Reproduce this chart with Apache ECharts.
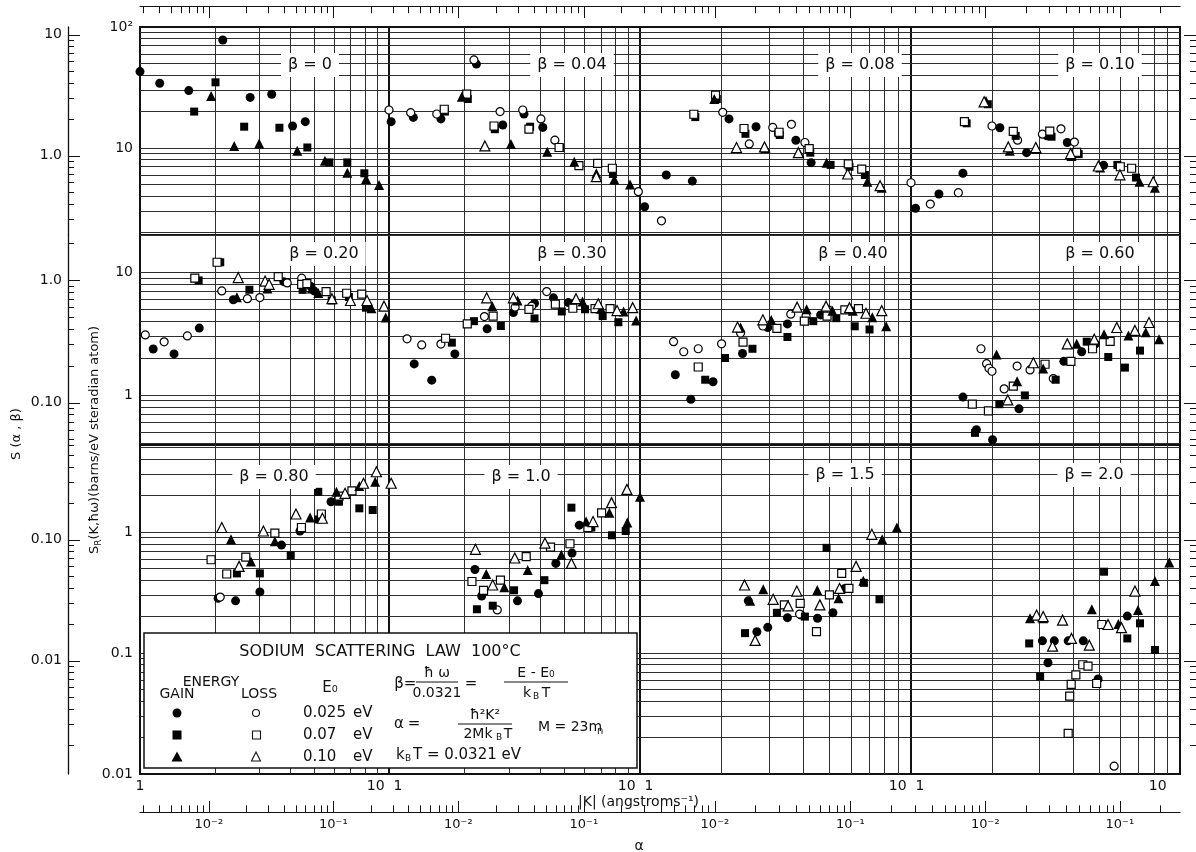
<!DOCTYPE html>
<html>
<head>
<meta charset="utf-8">
<script src="https://cdn.jsdelivr.net/npm/echarts@6/dist/echarts.min.js"></script>
<style>
  html, body { margin: 0; padding: 0; background: #fff; }
  #chart { width: 1196px; height: 852px; }
</style>
</head>
<body>
<div id="chart"></div>
<script>
// axis ranges
const kRange = [1, 10];                       // |K| in every panel
const alphaRange = [0.0028, 0.28];            // alpha = hbar^2 K^2 / 2 M kB T over the same panel
const alphaTicks = [0.003, 0.004, 0.005, 0.006, 0.007, 0.008, 0.009, 0.01,
                    0.02, 0.03, 0.04, 0.05, 0.06, 0.07, 0.08, 0.09, 0.1, 0.2];
const alphaTickLabels = [[0.01, '10⁻²'], [0.1, '10⁻¹']];
const rowRanges = [[1.91, 100], [0.39, 20.2], [0.01, 5.24]];   // S_R range of each panel row
const sRTickLabels = [[100, '10²'], [10, '10'], [1, '1'], [0.1, '0.1'], [0.01, '0.01']];
const sAlphaTickLabels = [[10, '10'], [1, '1.0'], [0.1, '0.10'], [0.01, '0.01']];
const sAlphaFactor = 0.116;                   // S(alpha,beta) scale against S_R
const betaLabels = ['β = 0', 'β = 0.04', 'β = 0.08', 'β = 0.10',
                    'β = 0.20', 'β = 0.30', 'β = 0.40', 'β = 0.60',
                    'β = 0.80', 'β = 1.0', 'β = 1.5', 'β = 2.0'];
const e0Labels = ['0.025', '0.07', '0.10'];

// data: [|K|, S_R]; fc/fs/ft = gain (filled), oc/os/ot = loss (open); c,s,t = 0.025, 0.07, 0.10 eV
// beta = 0
const p0_fc = [[1.0,42.8],[1.2,34.3],[1.57,29.8],[2.15,78],[2.77,26.2],[3.38,27.8],[4.1,15.2],[4.61,16.5]];
const p0_oc = [];
const p0_fs = [[1.65,20.0],[2.01,34.9],[2.62,15.0],[3.63,14.7],[4.7,10.1],[5.76,7.6],[6.8,7.6],[7.96,6.18]];
const p0_os = [];
const p0_ft = [[1.93,26.9],[2.39,10.4],[3.01,10.9],[4.28,9.5],[5.53,7.85],[6.8,6.25],[8.09,5.55],[9.12,4.94]];
const p0_ot = [];
// beta = 0.04
const p1_fc = [[1.02,16.5],[1.25,17.9],[1.61,17.4],[2.23,49.4],[2.84,15.5],[3.45,19.1],[4.1,14.8]];
const p1_oc = [[1.0,20.6],[1.22,19.6],[1.55,19.1],[2.18,53.4],[2.77,20.0],[3.41,20.6],[4.03,17.4],[4.58,11.6],[9.85,4.36]];
const p1_fs = [[1.67,20.0],[2.06,25.4],[2.64,14.3],[3.65,15.0],[4.8,10.0],[7.8,6.1]];
const p1_os = [[1.66,20.9],[2.04,27.9],[2.62,15.2],[3.61,14.3],[4.76,10.1],[5.71,7.14],[6.78,7.47],[7.76,6.8]];
const p1_ft = [[1.95,26.5],[3.06,10.8],[4.27,9.3],[5.47,7.7],[6.7,6.18],[7.9,5.5],[9.13,5.0]];
const p1_ot = [[2.41,10.4],[6.7,5.8]];
// beta = 0.08
const p2_fc = [[1.04,3.27],[1.25,5.98],[1.56,5.33],[2.13,17.4],[2.68,15.0],[3.24,13.1],[3.76,11.6],[4.28,7.57]];
const p2_oc = [[1.2,2.5],[2.02,19.7],[2.53,10.8],[3.09,14.8],[3.62,15.7],[4.06,11.1]];
const p2_fs = [[1.6,18.0],[1.92,25.4],[2.45,13.1],[3.28,12.8],[4.25,9.15],[5.05,7.25],[5.93,7.0],[6.76,5.98]];
const p2_os = [[1.58,19.0],[1.9,27.4],[2.42,14.5],[3.26,13.5],[4.21,9.9],[5.87,7.38],[6.58,6.7]];
const p2_ft = [[1.88,25.4],[2.9,10.0],[3.87,9.1],[4.88,7.57],[6.9,5.26],[7.8,4.7]];
const p2_ot = [[2.27,10.1],[2.88,10.2],[3.84,9.15],[5.84,6.1],[7.69,4.88]];
// beta = 0.10
const p3_fc = [[1.04,3.18],[1.27,4.17],[1.56,6.18],[2.14,14.7],[2.69,9.15],[3.2,12.6],[3.81,11.1],[5.2,7.2]];
const p3_oc = [[1.0,5.16],[1.18,3.44],[1.5,4.27],[2.0,15.2],[2.49,11.6],[3.08,13.0],[3.61,14.4],[4.05,11.2]];
const p3_fs = [[1.61,16.0],[1.93,23.0],[2.45,12.6],[3.33,12.4],[4.2,8.9],[5.85,7.25],[6.86,5.7]];
const p3_os = [[1.58,16.5],[2.4,13.7],[3.28,13.8],[4.13,9.2],[6.0,7.0],[6.61,6.8]];
const p3_ft = [[1.9,24.5],[2.33,9.5],[2.93,9.8],[3.95,8.6],[5.05,6.9],[7.07,5.26],[8.07,4.7]];
const p3_ot = [[1.87,24.1],[2.3,10.2],[2.91,10.1],[3.92,9.0],[4.97,7.1],[5.98,6.0],[7.95,5.26]];
// beta = 0.20
const p4_fc = [[1.13,2.37],[1.37,2.16],[1.73,3.51],[2.37,5.98],[3.78,8.4],[4.86,7.66],[5.0,7.06]];
const p4_oc = [[1.05,3.09],[1.25,2.71],[1.55,3.03],[2.13,7.06],[2.7,6.1],[3.03,6.23],[3.9,8.2],[4.46,8.97]];
const p4_fs = [[1.72,8.6],[2.1,12.1],[2.75,7.22],[4.5,7.2],[5.89,5.9],[6.9,6.3],[8.08,5.15]];
const p4_os = [[1.66,8.97],[2.04,12.1],[3.59,9.25],[4.46,8.0],[4.68,8.1],[5.59,6.97],[6.76,6.76],[7.77,6.65]];
const p4_ft = [[2.45,6.28],[3.25,7.4],[4.9,7.4],[5.2,6.8],[8.5,5.1],[9.7,4.28]];
const p4_ot = [[2.48,9.08],[3.18,8.5],[3.3,8.0],[5.9,6.1],[7.0,5.9],[8.16,5.9],[9.55,5.3]];
// beta = 0.30
const p5_fc = [[1.26,1.79],[1.48,1.32],[1.83,2.16],[2.46,3.46],[3.13,4.7],[3.8,5.6],[4.52,6.2],[5.18,5.67]];
const p5_oc = [[1.18,2.87],[1.35,2.56],[1.61,2.6],[2.4,4.36],[3.18,5.2],[3.7,5.3],[4.25,6.97],[6.7,5.06]];
const p5_fs = [[1.78,2.67],[2.18,4.0],[2.79,3.65],[3.8,4.21],[4.88,4.8],[6.04,5.0],[7.1,4.4],[8.2,3.92]];
const p5_os = [[1.68,2.9],[2.05,3.8],[2.6,4.4],[3.61,5.0],[4.6,5.5],[5.4,5.1],[6.62,5.06],[7.6,5.06]];
const p5_ft = [[2.58,5.3],[3.25,5.9],[5.9,5.8],[7.0,5.06],[8.6,4.8],[9.65,4.04]];
const p5_ot = [[2.45,6.2],[3.13,6.2],[5.56,6.1],[6.82,5.55],[8.1,4.88],[9.35,5.15]];
// beta = 0.40
const p6_fc = [[1.35,1.46],[1.54,0.92],[1.86,1.28],[2.39,2.18],[2.96,3.55],[3.5,3.8],[4.64,4.5]];
const p6_oc = [[1.33,2.72],[1.45,2.25],[1.64,2.38],[2.0,2.61],[2.35,3.2],[2.84,3.65],[3.6,4.56],[4.1,4.4]];
const p6_fs = [[1.74,1.33],[2.06,2.0],[2.6,2.38],[3.5,2.97],[4.36,4.0],[5.3,4.23],[6.2,3.63],[7.03,3.42]];
const p6_os = [[1.64,1.69],[2.4,2.7],[3.2,3.49],[4.04,4.0],[4.9,4.9],[4.9,4.4],[5.7,4.94],[6.4,5.06]];
const p6_ft = [[2.35,3.55],[3.05,4.08],[4.12,5.0],[5.13,4.87],[6.1,4.87],[7.2,4.3],[8.1,3.63]];
const p6_ot = [[2.29,3.58],[2.84,4.1],[3.8,5.2],[4.86,5.3],[5.93,5.15],[6.82,4.64],[7.8,4.87]];
// beta = 0.60
const p7_fc = [[1.56,0.96],[1.75,0.52],[2.01,0.43],[2.52,0.77],[3.7,1.88],[4.31,2.25],[4.85,2.61]];
const p7_oc = [[1.82,2.38],[1.91,1.8],[1.95,1.65],[2.0,1.56],[2.22,1.12],[2.48,1.72],[2.77,1.6],[3.38,1.36]];
const p7_fs = [[1.73,0.49],[2.13,0.84],[2.65,0.99],[3.45,1.33],[4.5,2.72],[5.41,2.04],[6.24,1.67],[7.1,2.3]];
const p7_os = [[1.69,0.84],[1.94,0.74],[2.4,1.18],[3.15,1.78],[3.93,1.88],[4.73,2.38],[5.5,2.74]];
const p7_ft = [[2.08,2.14],[2.48,1.29],[3.1,1.64],[4.13,2.61],[5.22,3.13],[6.43,3.05],[7.46,3.25],[8.36,2.85]];
const p7_ot = [[2.29,0.91],[2.85,1.83],[3.81,2.61],[4.8,2.85],[5.82,3.55],[6.8,3.36],[7.67,3.9]];
// beta = 0.80
const p8_fc = [[2.06,0.283],[2.42,0.27],[3.03,0.32],[3.7,0.78],[4.39,1.02],[5.85,1.78]];
const p8_oc = [[2.1,0.29]];
const p8_fs = [[2.45,0.455],[3.03,0.455],[4.03,0.64],[5.2,1.27],[5.2,2.15],[6.3,1.78],[7.6,1.57],[8.6,1.52]];
const p8_os = [[1.93,0.59],[2.23,0.45],[2.66,0.62],[3.48,0.98],[4.45,1.09],[5.35,1.41],[6.3,1.98],[7.1,2.19]];
const p8_ft = [[2.32,0.87],[2.79,0.57],[3.48,0.84],[4.82,1.32],[6.15,2.15],[7.6,2.4],[8.8,2.6]];
const p8_ot = [[2.13,1.09],[2.5,0.52],[3.13,1.02],[4.23,1.41],[5.4,1.3],[6.66,2.09],[7.9,2.53],[8.9,3.15]];
// beta = 1.0
const p9_fc = [[2.2,0.49],[2.34,0.296],[3.25,0.27],[3.94,0.31],[4.62,0.55],[5.36,0.67],[5.73,1.14]];
const p9_oc = [[2.7,0.227]];
const p9_fs = [[2.24,0.23],[2.59,0.246],[3.15,0.33],[4.16,0.4],[5.33,1.59],[6.4,1.09],[7.73,0.94],[8.77,1.02]];
const p9_os = [[2.14,0.39],[2.38,0.33],[2.78,0.4],[3.52,0.625],[4.4,0.75],[5.26,0.8],[6.2,1.09],[7.03,1.44]];
const p9_ft = [[2.44,0.45],[2.88,0.35],[3.57,0.486],[4.86,0.65],[6.1,1.22],[7.55,1.44],[8.9,1.2]];
const p9_ot = [[1.02,2.53],[2.21,0.72],[2.59,0.365],[3.17,0.61],[4.18,0.81],[5.33,0.55],[6.5,1.22],[7.7,1.75],[8.87,2.25]];
// beta = 1.5
const p10_fc = [[2.51,0.27],[2.7,0.15],[2.96,0.163],[3.5,0.196],[3.93,0.206],[4.52,0.194],[5.15,0.215],[5.7,0.342]];
const p10_oc = [[3.88,0.21]];
const p10_fs = [[2.44,0.146],[3.2,0.215],[4.06,0.2],[4.88,0.74],[6.7,0.38],[7.65,0.278]];
const p10_os = [[3.41,0.25],[3.9,0.257],[4.48,0.15],[5.0,0.302],[5.55,0.455],[5.9,0.342]];
const p10_ft = [[1.0,1.96],[2.55,0.27],[2.85,0.336],[4.51,0.331],[5.4,0.283],[6.67,0.396],[7.83,0.87],[8.87,1.09]];
const p10_ot = [[2.43,0.365],[2.66,0.127],[3.1,0.278],[3.52,0.245],[3.79,0.325],[4.61,0.25],[5.45,0.342],[6.27,0.52],[7.17,0.957]];
// beta = 2.0
const p11_fc = [[3.08,0.126],[3.23,0.083],[3.41,0.126],[3.84,0.126],[4.37,0.126],[4.96,0.061],[6.37,0.202]];
const p11_oc = [[5.69,0.0116]];
const p11_fs = [[2.75,0.12],[3.02,0.064],[5.22,0.47],[6.37,0.132],[7.1,0.176],[8.07,0.106]];
const p11_os = [[3.84,0.0217],[3.89,0.044],[3.94,0.055],[4.1,0.066],[4.35,0.08],[4.55,0.078],[4.9,0.056],[5.12,0.172]];
const p11_ft = [[2.77,0.194],[3.1,0.194],[4.7,0.23],[5.9,0.174],[6.98,0.227],[8.07,0.394],[9.12,0.56]];
const p11_ot = [[2.93,0.206],[3.1,0.2],[3.36,0.114],[3.66,0.187],[3.95,0.132],[4.6,0.116],[5.4,0.172],[6.06,0.162],[6.8,0.325]];

const panels = [
  [p0_fc, p0_oc, p0_fs, p0_os, p0_ft, p0_ot], [p1_fc, p1_oc, p1_fs, p1_os, p1_ft, p1_ot],
  [p2_fc, p2_oc, p2_fs, p2_os, p2_ft, p2_ot], [p3_fc, p3_oc, p3_fs, p3_os, p3_ft, p3_ot],
  [p4_fc, p4_oc, p4_fs, p4_os, p4_ft, p4_ot], [p5_fc, p5_oc, p5_fs, p5_os, p5_ft, p5_ot],
  [p6_fc, p6_oc, p6_fs, p6_os, p6_ft, p6_ot], [p7_fc, p7_oc, p7_fs, p7_os, p7_ft, p7_ot],
  [p8_fc, p8_oc, p8_fs, p8_os, p8_ft, p8_ot], [p9_fc, p9_oc, p9_fs, p9_os, p9_ft, p9_ot],
  [p10_fc, p10_oc, p10_fs, p10_os, p10_ft, p10_ot], [p11_fc, p11_oc, p11_fs, p11_os, p11_ft, p11_ot]
];

// layout
const colX = [140, 389, 640, 911, 1180];
const rowY = [27, 235, 445, 774];
const FONT = 'DejaVu Sans';
const INK = '#111';
const markers = [
  { symbol: 'circle', size: 9, filled: true },
  { symbol: 'circle', size: 8, filled: false },
  { symbol: 'rect', size: 8, filled: true },
  { symbol: 'rect', size: 8, filled: false },
  { symbol: 'triangle', size: 10, filled: true },
  { symbol: 'triangle', size: 10, filled: false }
];

function labelFor(table, v) {
  for (const [t, s] of table) if (Math.abs(v - t) / t < 1e-6) return s;
  return '';
}
// 1..9 x 10^n values strictly inside a range
function logLines(min, max) {
  const out = [];
  for (let e = Math.floor(Math.log10(min)); e <= Math.ceil(Math.log10(max)); e++) {
    for (let m = 1; m <= 9; m++) {
      const v = +(m * Math.pow(10, e)).toPrecision(2);
      if (v > min * 1.0001 && v < max * 0.9999) out.push(v);
    }
  }
  return out;
}
function isDecade(v) {
  const e = Math.log10(v);
  return Math.abs(e - Math.round(e)) < 1e-6;
}

const grid = [], xAxis = [], yAxis = [], series = [];
const tickLine = { color: INK, width: 1, type: 'solid' };
function markLineOf(data, style) {
  return { silent: true, symbol: ['none', 'none'], label: { show: false }, animation: false,
           emphasis: { disabled: true }, lineStyle: style, data: data };
}

// 12 panels
panels.forEach((sets, i) => {
  const r = Math.floor(i / 4), c = i % 4;
  grid.push({ left: colX[c], top: rowY[r], width: colX[c + 1] - colX[c], height: rowY[r + 1] - rowY[r],
              show: true, borderColor: INK, borderWidth: 2, backgroundColor: 'transparent',
              containLabel: false, outerBoundsMode: 'none' });
  xAxis.push({ type: 'log', logBase: 10, gridIndex: i, min: kRange[0], max: kRange[1],
    axisLine: { show: false }, axisTick: { show: false }, splitLine: { show: false },
    axisLabel: { show: r === 2, color: INK, fontSize: 14, fontFamily: FONT, margin: 5,
      alignMinLabel: c === 0 ? 'center' : 'left', alignMaxLabel: 'right',
      formatter: v => {
        if (!isDecade(v)) return '';
        if (Math.round(v) === 1) return c === 0 ? '1' : ' 1';
        return c === 3 ? '10   ' : '10 ';
      } } });
  yAxis.push({ type: 'log', logBase: 10, gridIndex: i, min: rowRanges[r][0], max: rowRanges[r][1],
    axisLine: { show: false }, axisTick: { show: false }, splitLine: { show: false },
    axisLabel: { show: c === 0, color: INK, fontSize: 14, fontFamily: FONT, margin: 7,
      formatter: v => labelFor(sRTickLabels, v) } });
  const lines = logLines(kRange[0], kRange[1]).map(v => ({ xAxis: v }))
    .concat(logLines(rowRanges[r][0], rowRanges[r][1]).map(v => ({ yAxis: v })));
  series.push({ type: 'scatter', xAxisIndex: i, yAxisIndex: i, data: [], silent: true, z: 1,
    markLine: markLineOf(lines, { color: '#2e2e2e', width: 1, type: 'solid' }) });
  sets.forEach((pts, k) => {
    const m = markers[k];
    series.push({ type: 'scatter', xAxisIndex: i, yAxisIndex: i, data: pts, symbol: m.symbol,
      symbolSize: m.size, z: 5, silent: true,
      itemStyle: m.filled ? { color: '#000', opacity: 1 }
                          : { color: '#fff', borderColor: '#000', borderWidth: 1.2, opacity: 1 } });
  });
});

// outer S(alpha,beta) scale on the left and the tick strip on the right
rowRanges.forEach((rr, r) => {
  ['left', 'right'].forEach(side => {
    const g = grid.length;
    grid.push({ left: side === 'left' ? 68 : 1184, width: 12, top: rowY[r], height: rowY[r + 1] - rowY[r],
                containLabel: false, outerBoundsMode: 'none' });
    xAxis.push({ type: 'value', gridIndex: g, min: 0, max: 1, show: false });
    const lo = rr[0] * sAlphaFactor, hi = rr[1] * sAlphaFactor;
    yAxis.push({ type: 'log', logBase: 10, gridIndex: g, min: lo, max: hi, position: side,
      axisLine: { show: side === 'left', onZero: false, lineStyle: { color: INK, width: 1.3 } },
      axisTick: { show: false }, splitLine: { show: false },
      axisLabel: { show: side === 'left', color: INK, fontSize: 14, fontFamily: FONT, margin: 6,
        formatter: v => labelFor(sAlphaTickLabels, v) } });
    const ticks = logLines(lo, hi).map(v => {
      const len = isDecade(v) ? 1 : 0.5;
      return side === 'left' ? [{ coord: [0, v] }, { coord: [len, v] }]
                             : [{ coord: [1 - len, v] }, { coord: [1, v] }];
    });
    series.push({ type: 'scatter', xAxisIndex: g, yAxisIndex: g, data: [], silent: true,
      markLine: markLineOf(ticks, tickLine) });
  });
});

// alpha rulers: top (ticks only) and bottom (with labels)
[0, 1, 2, 3].forEach(c => {
  ['top', 'bottom'].forEach(pos => {
    const g = grid.length;
    grid.push({ left: colX[c], width: colX[c + 1] - colX[c], top: pos === 'top' ? 6 : 801,
                height: pos === 'top' ? 12 : 11, containLabel: false, outerBoundsMode: 'none' });
    xAxis.push({ type: 'log', logBase: 10, gridIndex: g, min: alphaRange[0], max: alphaRange[1], position: pos,
      axisLine: { show: true, onZero: false, lineStyle: { color: INK, width: 1.2 } },
      axisTick: { show: false }, splitLine: { show: false },
      axisLabel: { show: pos === 'bottom', color: INK, fontSize: 13, fontFamily: FONT, margin: 6,
        formatter: v => labelFor(alphaTickLabels, v) } });
    yAxis.push({ type: 'value', gridIndex: g, min: 0, max: 1, show: false });
    const ticks = alphaTicks.map(a => {
      const len = isDecade(a) ? 1 : 0.6;
      return pos === 'top' ? [{ coord: [a, 1] }, { coord: [a, 1 - len] }]
                           : [{ coord: [a, 0] }, { coord: [a, len] }];
    });
    series.push({ type: 'scatter', xAxisIndex: g, yAxisIndex: g, data: [], silent: true,
      markLine: markLineOf(ticks, tickLine) });
  });
});

// text helpers
function txt(x, y, text, size, align, extra) {
  return Object.assign({ type: 'text', x: x, y: y, z: 80, silent: true,
    style: { text: text, fill: INK, font: size + 'px "' + FONT + '"', align: align || 'left', verticalAlign: 'middle' } }, extra || {});
}
function hline(x1, x2, y) {
  return { type: 'line', z: 80, silent: true, shape: { x1: x1, y1: y, x2: x2, y2: y }, style: { stroke: INK, lineWidth: 1.2 } };
}

const betaPos = [[310, 65], [572, 65], [860, 65], [1100, 65],
                 [324, 254], [572, 254], [853, 254], [1100, 254],
                 [274, 477], [521, 477], [845, 475], [1094, 475]];
const graphics = betaLabels.map((b, i) => txt(betaPos[i][0], betaPos[i][1], b, 16, 'center',
  { style: { text: b, fill: INK, font: '16px "' + FONT + '"', align: 'center', verticalAlign: 'middle',
             backgroundColor: '#fff', padding: [4, 7] } }));

// axis titles
graphics.push(txt(578, 802, '|K| (angstroms⁻¹)', 14, 'left'));
graphics.push(txt(639, 846, 'α', 14, 'center'));
graphics.push(txt(17, 434, 'S (α , β)', 13, 'center', { rotation: Math.PI / 2 }));
graphics.push({ type: 'text', x: 95, y: 440, z: 80, rotation: Math.PI / 2, silent: true,
  style: { text: '{n|S}{s|R}{n|(K,ħω)(barns/eV steradian atom)}', align: 'center', verticalAlign: 'middle', fill: INK,
    rich: { n: { fontSize: 13, fontFamily: FONT, fill: INK }, s: { fontSize: 9, fontFamily: FONT, fill: INK, padding: [7, 0, 0, 0] } } } });

// legend box
const L = [];
L.push({ type: 'rect', z: 70, silent: true, shape: { x: 144, y: 633, width: 493, height: 135 },
         style: { fill: '#fff', stroke: INK, lineWidth: 1.5 } });
L.push(txt(380, 652, 'SODIUM  SCATTERING  LAW  100°C', 16, 'center'));
L.push(txt(211, 682, 'ENERGY', 14, 'center'));
L.push(txt(177, 694, 'GAIN', 14, 'center'));
L.push(txt(259, 694, 'LOSS', 14, 'center'));
L.push(txt(330, 688, 'E₀', 15, 'center'));
const rowsY = [713, 735, 757];
L.push({ type: 'circle', z: 80, shape: { cx: 177, cy: rowsY[0], r: 4.5 }, style: { fill: '#000' } });
L.push({ type: 'circle', z: 80, shape: { cx: 256, cy: rowsY[0], r: 3.5 }, style: { fill: '#fff', stroke: INK, lineWidth: 1.1 } });
L.push({ type: 'rect', z: 80, shape: { x: 172.5, y: rowsY[1] - 4.5, width: 9, height: 9 }, style: { fill: '#000' } });
L.push({ type: 'rect', z: 80, shape: { x: 252.5, y: rowsY[1] - 4, width: 8, height: 8 }, style: { fill: '#fff', stroke: INK, lineWidth: 1.1 } });
L.push({ type: 'polygon', z: 80, shape: { points: [[177, rowsY[2] - 5.5], [171.5, rowsY[2] + 4.5], [182.5, rowsY[2] + 4.5]] }, style: { fill: '#000' } });
L.push({ type: 'polygon', z: 80, shape: { points: [[256, rowsY[2] - 5], [251.5, rowsY[2] + 4], [260.5, rowsY[2] + 4]] }, style: { fill: '#fff', stroke: INK, lineWidth: 1.1 } });
e0Labels.forEach((e, k) => {
  L.push(txt(303, rowsY[k], e, 15, 'left'));
  L.push(txt(353, rowsY[k], 'eV', 15, 'left'));
});
// beta = hbar omega / 0.0321 = (E - E0) / kB T
L.push(txt(399, 684, 'β', 15, 'center'));
L.push(txt(410, 684, '=', 15, 'center'));
L.push(txt(437, 673, 'ħ ω', 14, 'center'));
L.push(hline(416, 458, 682));
L.push(txt(437, 693, '0.0321', 14, 'center'));
L.push(txt(471, 684, '=', 15, 'center'));
L.push(txt(536, 673, 'E - E₀', 14, 'center'));
L.push(hline(504, 568, 682));
L.push(txt(527, 693, 'k', 14, 'center'));
L.push(txt(536, 697, 'B', 9, 'center'));
L.push(txt(546, 693, 'T', 14, 'center'));
// alpha = hbar^2 K^2 / 2 M kB T
L.push(txt(399, 724, 'α', 15, 'center'));
L.push(txt(414, 724, '=', 15, 'center'));
L.push(txt(485, 715, 'ħ²K²', 14, 'center'));
L.push(hline(458, 512, 724));
L.push(txt(478, 734, '2Mk', 14, 'center'));
L.push(txt(499, 738, 'B', 9, 'center'));
L.push(txt(508, 734, 'T', 14, 'center'));
L.push(txt(538, 727, 'M = 23m', 14, 'left'));
L.push(txt(597, 731, 'n', 10, 'left'));
// kB T = 0.0321 eV
L.push(txt(396, 755, 'k', 15, 'left'));
L.push(txt(405, 759, 'B', 9, 'left'));
L.push(txt(413, 755, 'T = 0.0321 eV', 15, 'left'));

const chart = echarts.init(document.getElementById('chart'), null, { renderer: 'canvas' });
chart.setOption({
  animation: false,
  backgroundColor: '#fff',
  textStyle: { fontFamily: FONT },
  grid: grid,
  xAxis: xAxis,
  yAxis: yAxis,
  series: series,
  graphic: graphics.concat(L)
});
</script>
</body>
</html>
